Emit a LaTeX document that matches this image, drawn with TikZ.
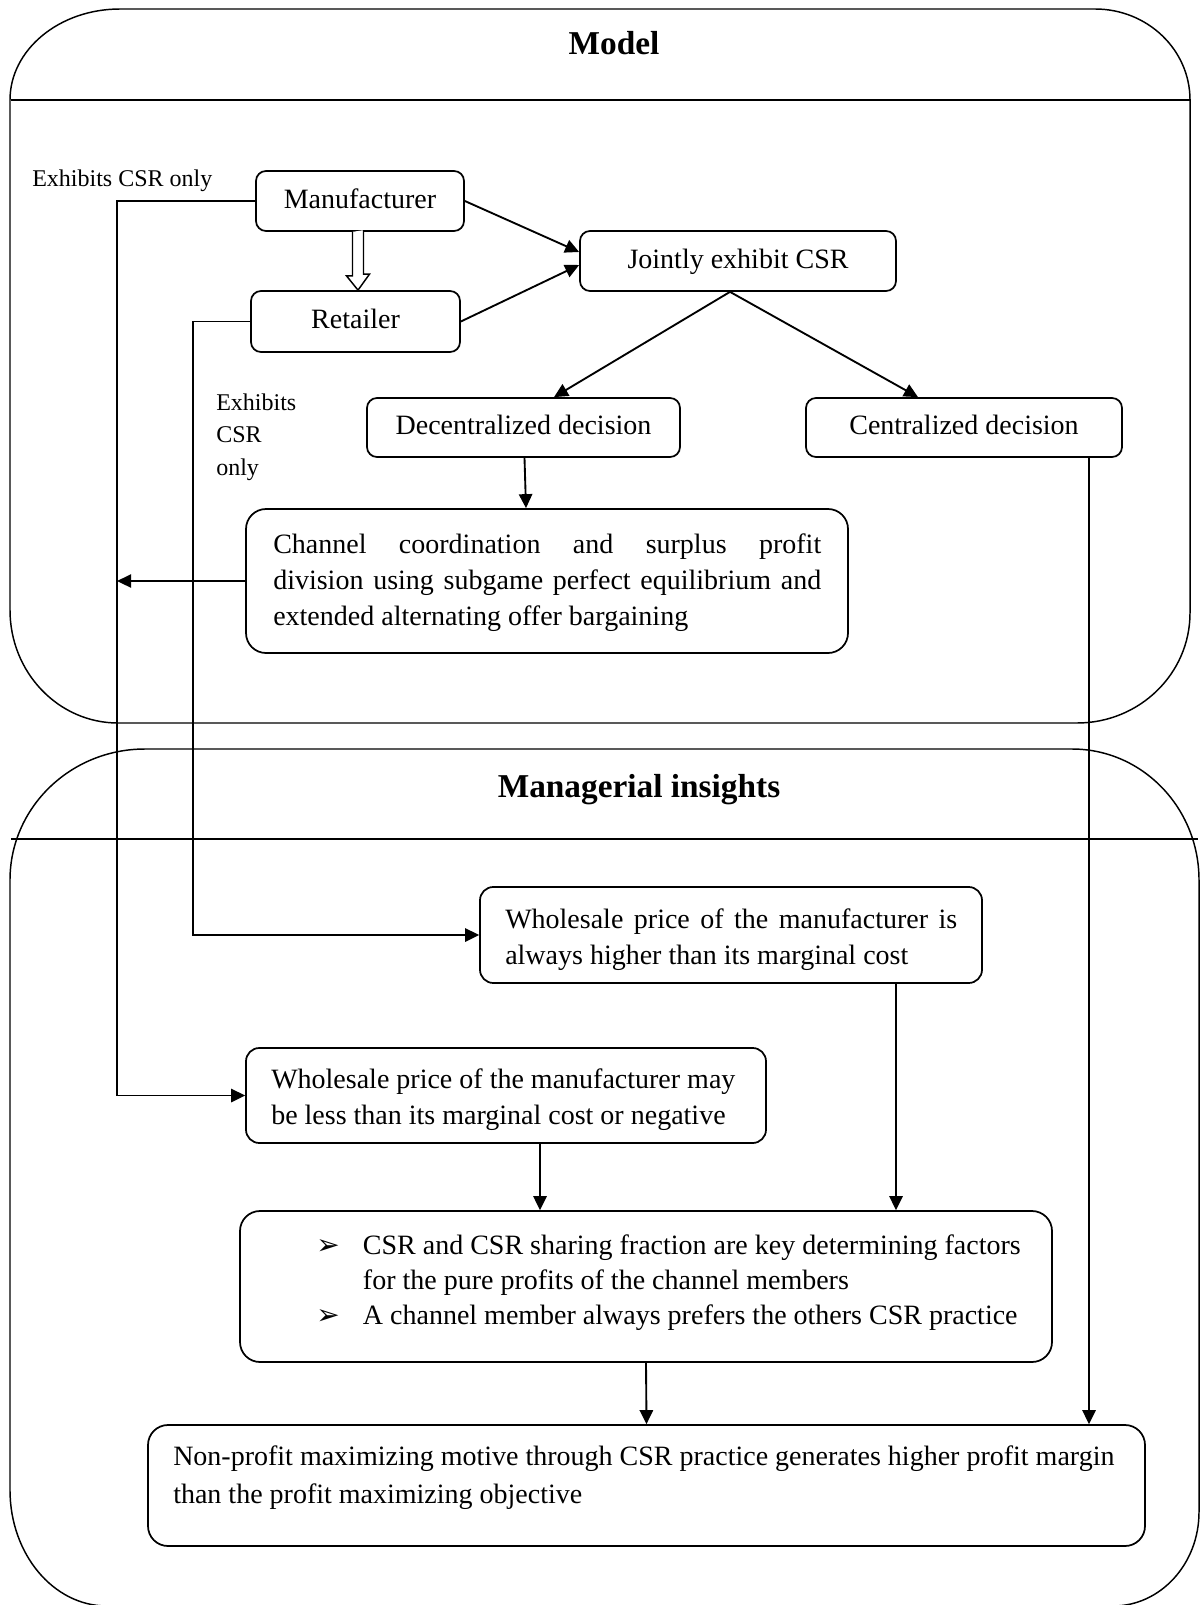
\documentclass[tikz,border=0pt]{standalone}
\usepackage{fontspec}
\setmainfont{Liberation Serif}
\newfontfamily\symf{DejaVu Sans}
\usetikzlibrary{arrows.meta,calc}
\begin{document}
\begin{tikzpicture}[x=0.75pt,y=-0.75pt,
  every node/.style={font=\fontsize{21}{27}\selectfont, inner sep=0pt},
  box/.style={draw, line width=1.3pt, rounded corners=7.5pt, execute at begin node=\strut, execute at end node=\strut},
  bigbox/.style={box, rounded corners=15pt},
  txt/.style={anchor=base west},
  arr/.style={line width=1.4pt, -{Triangle[length=10.5pt,width=10pt]}},
  panel/.style={line width=1.1pt},
  title/.style={font=\fontsize{25}{30}\selectfont\bfseries},
  lbl/.style={font=\fontsize{18}{24.4}\selectfont}]
\useasboundingbox (0,0) rectangle (1201,1605);
\fill[white] (0,0) rectangle (1201,1605);

% panels
\draw[panel] (120,9) -- (1095,9) arc[start angle=-90,end angle=0,x radius=95,y radius=91]
  -- (1190,613) arc[start angle=0,end angle=90,x radius=113,y radius=110]
  -- (118,723) arc[start angle=90,end angle=180,x radius=108,y radius=113]
  -- (10,100) arc[start angle=180,end angle=270,x radius=110,y radius=91] -- cycle;
\draw[panel] (11,100) -- (1191,100);
\draw[panel] (145,749) -- (1072,749) arc[start angle=-90,end angle=0,x radius=127,y radius=131]
  -- (1199,1512) arc[start angle=0,end angle=90,x radius=86,y radius=94]
  -- (107,1606) arc[start angle=90,end angle=180,x radius=97,y radius=116]
  -- (10,880) arc[start angle=180,end angle=270,x radius=135,y radius=131] -- cycle;
\draw[panel] (11,839) -- (1198,839);

% titles and labels
\node[title, anchor=base] (tmodel) at (614,55) {Model};
\node[title, anchor=base] (tins) at (639,797) {Managerial insights};
\node[lbl, anchor=base west] (l1) at (32,187) {Exhibits CSR only};
\node[lbl, anchor=base west] (l2) at (216,410) {\begin{tabular}[t]{@{}l@{}}Exhibits\\CSR\\only\end{tabular}};

% boxes
\node[box, minimum width=156pt, minimum height=45pt] (man) at (360,201) {Manufacturer};
\node[box, minimum width=156.75pt, minimum height=45.75pt] (ret) at (355.5,321.5) {Retailer};
\node[box, minimum width=237pt, minimum height=45pt] (joint) at (738,261) {Jointly exhibit CSR};
\node[box, minimum width=234.75pt, minimum height=44.25pt] (dec) at (523.5,427.5) {Decentralized decision};
\node[box, minimum width=237pt, minimum height=44.25pt] (cen) at (964,427.5) {Centralized decision};

\node[bigbox, minimum width=451.5pt, minimum height=108pt] (chan) at (547,581) {};
\node[txt] (chantext) at (273,553)
  {\begin{tabular}[t]{@{}l@{}}
   \makebox[411pt][s]{Channel coordination and surplus profit}\\
   \makebox[411pt][s]{division using subgame perfect equilibrium and}\\
   extended alternating offer bargaining
   \end{tabular}};

\node[bigbox, rounded corners=10pt, minimum width=376.5pt, minimum height=72pt] (high) at (731,935) {};
\node[txt] (hightext) at (505,928)
  {\begin{tabular}[t]{@{}l@{}}
   \makebox[339pt][s]{Wholesale price of the manufacturer is}\\
   always higher than its marginal cost
   \end{tabular}};

\node[bigbox, rounded corners=10pt, minimum width=390pt, minimum height=71.25pt] (less) at (506,1095.5) {};
\node[txt] (lesstext) at (271,1088)
  {\begin{tabular}[t]{@{}l@{}}
   Wholesale price of the manufacturer may\\
   be less than its marginal cost or negative
   \end{tabular}};

\node[bigbox, minimum width=609pt, minimum height=113.25pt] (csr) at (646,1286.5) {};
\node[txt, font=\fontsize{21}{26.6}\selectfont] (csrtext) at (316,1254)
  {\begin{tabular}[t]{@{}p{35pt}@{}l@{}}
   {\symf\fontsize{21}{21}\selectfont ➢} & CSR and CSR sharing fraction are key determining factors\\
   & for the pure profits of the channel members\\
   {\symf\fontsize{21}{21}\selectfont ➢} & A channel member always prefers the others CSR practice
   \end{tabular}};

\node[bigbox, minimum width=747.75pt, minimum height=90.75pt] (np) at (646.5,1485.5) {};
\node[txt, font=\fontsize{21}{28.5}\selectfont] (nptext) at (173,1465)
  {\begin{tabular}[t]{@{}l@{}}Non-profit maximizing motive through CSR practice generates higher profit margin\\
   than the profit maximizing objective\end{tabular}};

% connectors
\draw[arr] (man.east) -- ($(joint.west)+(0,-9)$);
\draw[arr] (ret.east) -- ($(joint.west)+(0,4)$);
\coordinate (jb) at ($(joint.south)+(-8,0)$);
\draw[arr] (jb) -- ($(dec.north)+(30.5,0)$);
\draw[arr] (jb) -- ($(cen.north)+(-46,0)$);
\draw[arr] ($(dec.south)+(1,0)$) -- ($(chan.north)+(-21,0)$);
\coordinate (cb) at ($(cen.south)+(125,0)$);
\draw[arr] (cb) -- (cb |- np.north);
\coordinate (mline) at ($(man.west)+(-138,0)$);
\draw[arr] (man.west) -- (mline) |- (less.west);
\draw[arr] (chan.west) -- (chan.west -| mline);
\coordinate (rline) at ($(ret.west)+(-57,0)$);
\draw[arr] (ret.west) -- (rline) |- (high.west);
\coordinate (hb) at ($(high.south)+(165,0)$);
\draw[arr] (hb) -- (hb |- csr.north);
\coordinate (lb) at ($(less.south)+(34,0)$);
\draw[arr] (lb) -- (lb |- csr.north);
\draw[arr] (csr.south) -- (np.north);
% hollow block arrow manufacturer -> retailer
\coordinate (ha) at ($(man.south)+(-2,0)$);
\coordinate (hr) at ($(ret.north)+(2.5,0)$);
\draw[line width=1.1pt, fill=white] ($(ha)+(-5.5,0)$) -- ++(0,44) -- ++(-6,0) -- (hr) -- ++(11.5,-16) -- ++(-6,0) -- ++(0,-44);
\end{tikzpicture}
\end{document}
